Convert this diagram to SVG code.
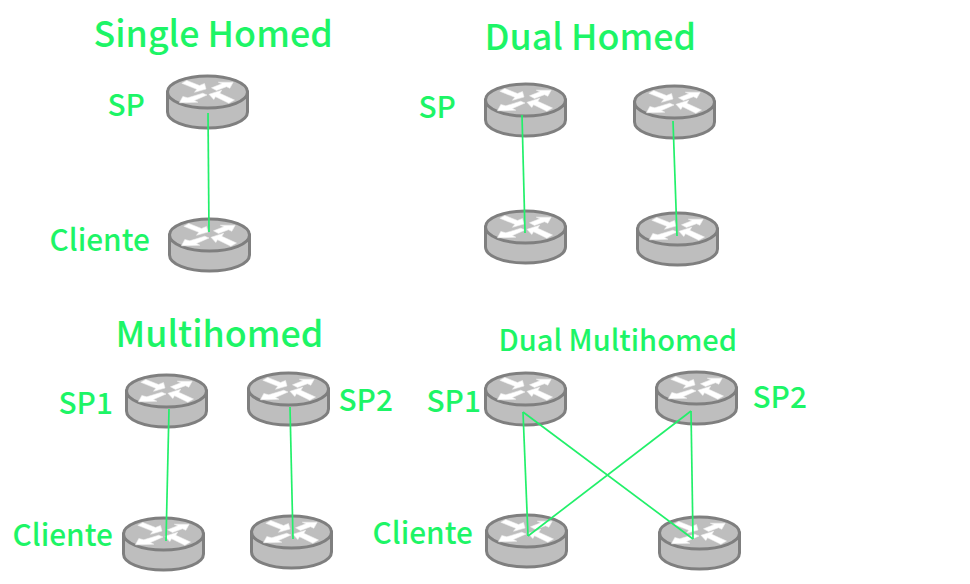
<svg xmlns="http://www.w3.org/2000/svg" width="970" height="584" viewBox="0 0 970 584">
<style>
text{font-family:"Noto Sans CJK SC","Noto Sans",sans-serif;font-weight:500;fill:#1df566}
.t{font-size:35.800px}.l{font-size:29.800px}
#connectors line{stroke:#22f06a;stroke-width:1.700;fill:none}
.body{fill:#bebebe;stroke:#7f7f7f;stroke-width:3}
.arr{fill:#fff;stroke:#f0f0f0;stroke-width:.600;stroke-linejoin:round}
</style>
<defs>
<g id="router">
<path class="body" d="M1.500 17V37C1.500 46 19 53 41.500 53S81.500 46 81.500 37V17Z"/>
<ellipse class="body" cx="41.500" cy="17" rx="40" ry="16"/>
<path class="arr" d="M15.800 8.300L20.800 5.500L33.500 10.500L38.500 8.500L40 14L28.500 17.300L30.800 14.300Z"/>
<path class="arr" d="M45.500 12.800L55.700 8.800L52.300 7.200L67.200 7.200L63.800 13.300L60.500 11.700L50.500 15.500Z"/>
<path class="arr" d="M36.800 18.200L41 20L28.500 25.500L31.800 27.200L13.500 27.800L16.800 21.500L21.800 22.800Z"/>
<path class="arr" d="M43 19.300L55.700 15.200L53.800 18.300L68.500 25L62.800 28.200L49.500 21.700L47.800 24.500Z"/>
</g>
</defs>
<g id="titles">
<text class="t" x="93.500" y="47">Single Homed</text>
<text class="t" x="484.500" y="50">Dual Homed</text>
<text class="t" x="115.500" y="347">Multihomed</text>
<text x="498.500" y="351" font-size="29">Dual Multihomed</text>
</g>
<g id="labels">
<text class="l" x="107.500" y="116">SP</text>
<text class="l" x="49.500" y="251">Cliente</text>
<text class="l" x="418.500" y="118">SP</text>
<text class="l" x="58.500" y="414">SP1</text>
<text class="l" x="338.500" y="411">SP2</text>
<text class="l" x="12.500" y="546">Cliente</text>
<text class="l" x="426.500" y="412">SP1</text>
<text class="l" x="752.500" y="408">SP2</text>
<text class="l" x="372.500" y="544">Cliente</text>
</g>
<g id="n1"><use href="#router" x="166" y="75"/></g>
<g id="n2"><use href="#router" x="168" y="218"/></g>
<g id="n3"><use href="#router" x="484" y="83"/></g>
<g id="n4"><use href="#router" x="633" y="85"/></g>
<g id="n5"><use href="#router" x="484" y="210"/></g>
<g id="n6"><use href="#router" x="636" y="212"/></g>
<g id="n7"><use href="#router" x="125" y="374"/></g>
<g id="n8"><use href="#router" x="247" y="372"/></g>
<g id="n9"><use href="#router" x="122" y="517"/></g>
<g id="n10"><use href="#router" x="250" y="515"/></g>
<g id="n11"><use href="#router" x="484" y="372"/></g>
<g id="n12"><use href="#router" x="655" y="371"/></g>
<g id="n13"><use href="#router" x="485" y="514"/></g>
<g id="n14"><use href="#router" x="658" y="516"/></g>
<g id="connectors">
<line x1="208" y1="113" x2="209" y2="232"/>
<line x1="522" y1="115" x2="525" y2="233"/>
<line x1="673" y1="121" x2="677" y2="236"/>
<line x1="169" y1="409" x2="166" y2="541"/>
<line x1="290" y1="407" x2="293" y2="539"/>
<line x1="523" y1="412" x2="528" y2="536"/>
<line x1="523" y1="412" x2="693" y2="539"/>
<line x1="691" y1="411" x2="528" y2="536"/>
<line x1="691" y1="411" x2="693" y2="539"/>
</g>
</svg>
